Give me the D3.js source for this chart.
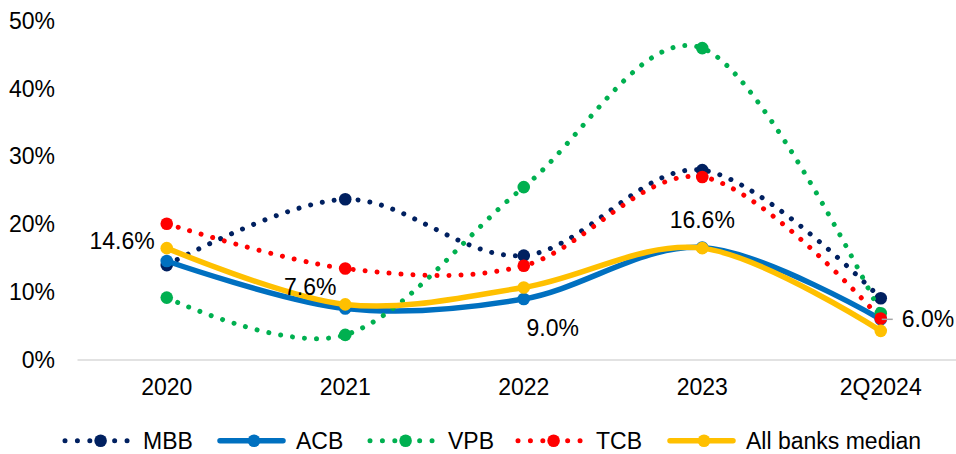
<!DOCTYPE html>
<html>
<head>
<meta charset="utf-8">
<script src="https://cdn.jsdelivr.net/npm/d3@7"></script>
<style>
  html, body { margin: 0; padding: 0; background: #fff; }
  svg { display: block; font-family: "Liberation Sans", Arial, sans-serif; }
</style>
</head>
<body>
<svg id="chart" width="956" height="454"></svg>
<script>
// ---- data ----
const categories = ["2020", "2021", "2022", "2023", "2Q2024"];
const mbbValues = [14.0, 23.7, 15.4, 28.0, 9.1];
const acbValues = [14.6, 7.6, 9.0, 16.6, 6.0];
const vpbValues = [9.2, 3.7, 25.5, 46.0, 6.9];
const tcbValues = [20.1, 13.5, 13.9, 27.0, 6.1];
const medianValues = [16.5, 8.2, 10.7, 16.5, 4.3];
const yTickValues = [0, 10, 20, 30, 40, 50];
const seriesNames = ["MBB", "ACB", "VPB", "TCB", "All banks median"];

// ---- styles / layout ----
const seriesDefs = [
  { name: seriesNames[0], values: mbbValues, color: "#002060", dotted: true },
  { name: seriesNames[1], values: acbValues, color: "#0070C0", dotted: false },
  { name: seriesNames[2], values: vpbValues, color: "#00B050", dotted: true },
  { name: seriesNames[3], values: tcbValues, color: "#FF0000", dotted: true },
  { name: seriesNames[4], values: medianValues, color: "#FFC000", dotted: false }
];
// data-label placement relative to ACB points: [dx, dy, anchor]
const labelLayout = [[-12, -20, "end"], [-35, -22, "middle"], [29, 29, "middle"], [0, -28, "middle"], [21, 0, "start"]];

const svg = d3.select("#chart");
const fontSize = 23;

const x = d3.scaleBand().domain(categories).range([77.5, 970]).padding(0);
const cx = c => x(c) + x.bandwidth() / 2;
const y = d3.scaleLinear().domain([0, 50]).range([360, 21]);

// x axis baseline
svg.append("line")
  .attr("x1", 77.5).attr("x2", 956)
  .attr("y1", y(0)).attr("y2", y(0))
  .attr("stroke", "#d9d9d9").attr("stroke-width", 1.5);

// y axis labels
const yAxis = svg.append("g").attr("transform", "translate(58,0)")
  .call(d3.axisLeft(y).tickValues(yTickValues).tickSize(0).tickPadding(3).tickFormat(d => d + "%"));
yAxis.select(".domain").remove();
yAxis.selectAll("text").attr("font-size", fontSize).attr("fill", "#000")
  .attr("font-family", "Liberation Sans, Arial, sans-serif");

// x axis labels
const xAxis = svg.append("g").attr("transform", `translate(0,${y(0)})`)
  .call(d3.axisBottom(x).tickSize(0).tickPadding(18.7));
xAxis.select(".domain").remove();
xAxis.selectAll("text").attr("font-size", fontSize).attr("fill", "#000")
  .attr("font-family", "Liberation Sans, Arial, sans-serif");

const line = d3.line()
  .x((d, i) => cx(categories[i]))
  .y(d => y(d))
  .curve(d3.curveCardinal.tension(0));

seriesDefs.forEach(s => {
  const g = svg.append("g");
  g.append("path")
    .attr("d", line(s.values))
    .attr("fill", "none")
    .attr("stroke", s.color)
    .attr("stroke-width", s.dotted ? 5 : 5.5)
    .attr("stroke-linecap", "round")
    .attr("stroke-linejoin", "round")
    .attr("stroke-dasharray", s.dotted ? "0.01 12" : null);
  g.selectAll("circle").data(s.values).join("circle")
    .attr("cx", (d, i) => cx(categories[i]))
    .attr("cy", d => y(d))
    .attr("r", 6.3)
    .attr("fill", s.color);
});

// leader line for last label
svg.append("line")
  .attr("x1", cx(categories[4]) + 1).attr("x2", cx(categories[4]) + 12)
  .attr("y1", y(acbValues[4])).attr("y2", y(acbValues[4]))
  .attr("stroke", "#a6a6a6").attr("stroke-width", 1.5);

// ACB data labels
svg.append("g").selectAll("text").data(acbValues).join("text")
  .attr("x", (d, i) => cx(categories[i]) + labelLayout[i][0])
  .attr("y", (d, i) => y(d) + labelLayout[i][1])
  .attr("dy", "0.35em")
  .attr("text-anchor", (d, i) => labelLayout[i][2])
  .attr("font-size", fontSize)
  .attr("fill", "#000")
  .text(d => d.toFixed(1) + "%");

// legend
const legendX = [65, 218, 370, 518, 668];
const legendY = 440.7;
const legendLen = 65;
seriesDefs.forEach((s, i) => {
  const g = svg.append("g").attr("transform", `translate(${legendX[i]},${legendY})`);
  g.append("line")
    .attr("x1", s.dotted ? 0 : 2).attr("x2", legendLen).attr("y1", 0).attr("y2", 0)
    .attr("stroke", s.color)
    .attr("stroke-width", s.dotted ? 5 : 5.5)
    .attr("stroke-linecap", "round")
    .attr("stroke-dasharray", s.dotted ? "0.01 12.4" : null);
  g.append("circle").attr("cx", s.dotted ? 35.6 : 36).attr("cy", 0).attr("r", 6.3).attr("fill", s.color);
  g.append("text")
    .attr("x", legendLen + 13).attr("y", 0).attr("dy", "0.35em")
    .attr("font-size", fontSize).attr("fill", "#000")
    .text(s.name);
});
</script>
</body>
</html>
